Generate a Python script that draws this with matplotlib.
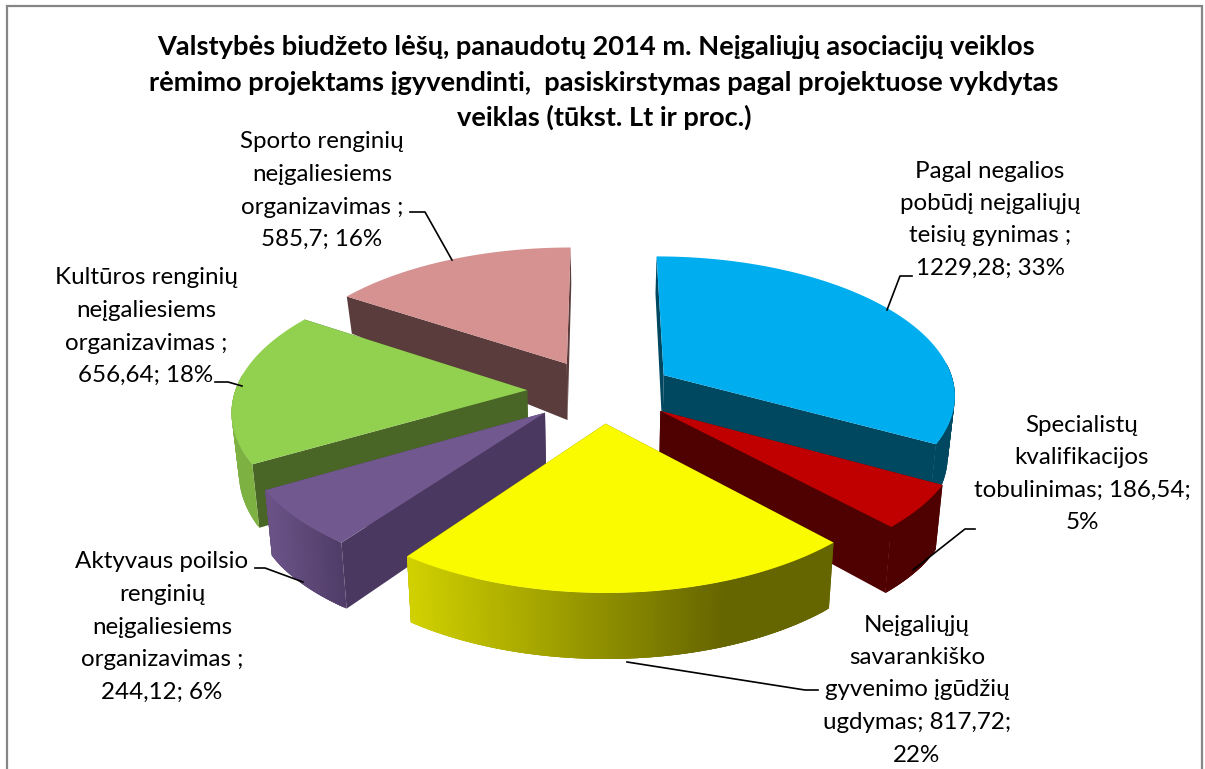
import numpy as np
import matplotlib
matplotlib.use("Agg")
import matplotlib.pyplot as plt
from matplotlib.patches import Polygon

values = [1229.28, 186.54, 817.72, 244.12, 656.64, 585.70]
value_text = ["1229,28", "186,54", "817,72", "244,12", "656,64", "585,7"]
percents = [33, 5, 22, 6, 18, 16]
names = [
    "Pagal negalios\npobūdį neįgaliųjų\nteisių gynimas ;\n{}; {}%",
    "Specialistų\nkvalifikacijos\ntobulinimas; {};\n{}%",
    "Neįgaliųjų\nsavarankiško\ngyvenimo įgūdžių\nugdymas; {};\n{}%",
    "Aktyvaus poilsio\nrenginių\nneįgaliesiems\norganizavimas ;\n{}; {}%",
    "Kultūros renginių\nneįgaliesiems\norganizavimas ;\n{}; {}%",
    "Sporto renginių\nneįgaliesiems\norganizavimas ;\n{}; {}%",
]
title_lines = [
    "Valstybės biudžeto lėšų, panaudotų 2014 m. Neįgaliųjų asociacijų veiklos",
    "rėmimo projektams įgyvendinti,  pasiskirstymas pagal projektuose vykdytas",
    "veiklas (tūkst. Lt ir proc.)",
]

top_colors = ["#00AEEF", "#C00000", "#FBFB00", "#71588F", "#92D050", "#D69291"]
radial_colors = ["#004760", "#4F0000", "#666600", "#4B3860", "#4A6626", "#5A3C3C"]
outer_from = ["#004760", "#4F0000", "#D2D200", "#6A5286", "#7DB142", "#B87C7B"]
outer_to = ["#004760", "#4F0000", "#666600", "#4E3B66", "#7DB142", "#B87C7B"]
outer_x = [(0, 1), (0, 1), (407, 725), (270, 347), (0, 1), (0, 1)]

CX, CY, A, B, K = 601.0, 391.0, 292.0, 138.0, 0.13
EXPL_U, EXPL_V = 0.253, 0.23


def project(u, v):
    w = 1 - K * v
    return CX + A * u / w, CY + B * v / w


def drop(x, y):
    depth = np.interp(y, [296, 360, 500], [37, 56, 66])
    return CX + (x - CX) * 0.98, y + depth


def rgb(c):
    return np.array(matplotlib.colors.to_rgb(c))


fig = plt.figure(figsize=(12.05, 7.69), dpi=100)
ax = fig.add_axes([0, 0, 1, 1])
ax.set_xlim(0, 1205)
ax.set_ylim(769, 0)
ax.axis("off")

fractions = np.array(values) / np.sum(values)
edges = np.concatenate([[0], np.cumsum(fractions)]) * 2 * np.pi


def draw_slice(i):
    t0, t1 = edges[i], edges[i + 1]
    mid = (t0 + t1) / 2
    eu, ev = EXPL_U * np.sin(mid), -EXPL_V * np.cos(mid)
    th = np.linspace(t0, t1, max(int((t1 - t0) * 180 / np.pi * 2), 8))
    x, y = project(eu + np.sin(th), ev - np.cos(th))
    ax_, ay = project(np.array([eu]), np.array([ev]))
    bx, by = drop(x, y)
    abx, aby = drop(ax_, ay)
    for j in (0, -1):
        ax.add_patch(Polygon([(ax_[0], ay[0]), (x[j], y[j]), (bx[j], by[j]), (abx[0], aby[0])],
                             fc=radial_colors[i], ec="none"))
    c0, c1 = rgb(outer_from[i]), rgb(outer_to[i])
    x0, x1 = outer_x[i]
    n = len(th)
    for j in range(n - 1):
        if np.cos(th[j]) > 0.1:
            continue
        k = min(j + 3, n - 1)
        t = np.clip((x[j] - x0) / (x1 - x0), 0, 1)
        col = c0 + (c1 - c0) * t
        ax.add_patch(Polygon(np.column_stack([np.r_[x[j:k + 1], bx[j:k + 1][::-1]],
                                              np.r_[y[j:k + 1], by[j:k + 1][::-1]]]),
                             fc=col, ec="none"))
    pts = np.column_stack([np.r_[ax_, x], np.r_[ay, y]])
    ax.add_patch(Polygon(pts, fc=top_colors[i], ec="none"))


for i in [5, 0, 4, 1, 3, 2]:
    draw_slice(i)

# chart frame
ax.plot([7, 7, 1202, 1202], [769, 6, 6, 769], color="#868686", lw=1.6, solid_joinstyle="miter")

# title
for line, xx, yy in zip(title_lines, [596, 604, 604], [47, 83, 117]):
    ax.text(xx, yy, line, ha="center", va="center", fontsize=19.6, fontweight="bold",
            family="Lato", color="black")

# labels
label_pos = [(990, 171), (1082, 425), (917, 625), (162, 562), (146, 278), (322, 142)]
for i, (nm, (lx, ly)) in enumerate(zip(names, label_pos)):
    text = nm.format(value_text[i], percents[i])
    for k, line in enumerate(text.split("\n")):
        ax.text(lx, ly + k * 32.5, line, ha="center", va="center", fontsize=17.4,
                family="Lato", color="black")

leaders = [
    [(887, 310), (900, 276), (912, 276)],
    [(913, 570), (965, 529), (975, 529)],
    [(627, 662), (805, 690), (818, 690)],
    [(303, 582), (265, 568), (255, 568)],
    [(242, 386), (228, 382), (215, 382)],
    [(452, 260), (425, 212), (410, 212)],
]
for seg in leaders:
    ax.plot(*zip(*seg), color="black", lw=1.2)

fig.savefig("out.png", dpi=100, facecolor="white")
